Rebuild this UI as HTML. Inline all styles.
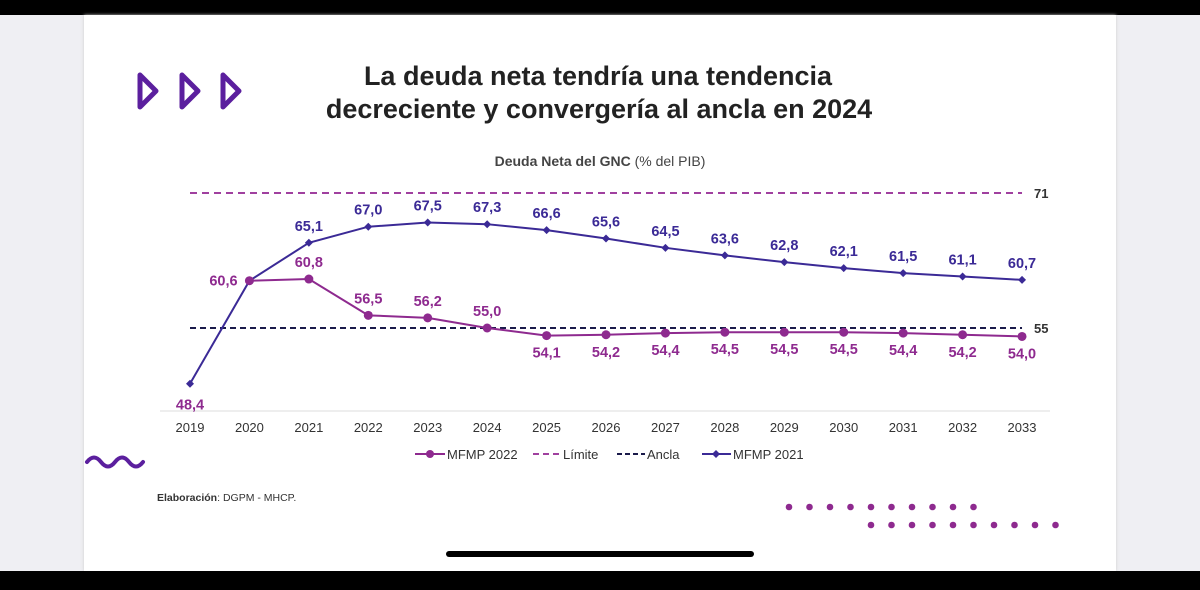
<!DOCTYPE html>
<html><head><meta charset="utf-8"><style>
body{margin:0;width:1200px;height:590px;overflow:hidden;background:#efeff3;font-family:"Liberation Sans",sans-serif;position:relative}
</style></head><body>
<div style="position:absolute;left:0;top:0;width:1200px;height:15px;background:#000"></div>
<div style="position:absolute;left:84px;top:15px;width:1032px;height:556px;background:#fff;box-shadow:0 0 3px #ccc"></div>
<div style="position:absolute;left:0;top:571px;width:1200px;height:19px;background:#000"></div>
<svg id="svg" width="1200" height="590" style="position:absolute;left:0;top:0">
<g fill="none" stroke="#5b1f9e" stroke-width="5" stroke-linejoin="round">
<path d="M140,75 L156,91 L140,107 Z"/><path d="M182,75 L198,91 L182,107 Z"/><path d="M223,75 L239,91 L223,107 Z"/></g>
<text x="598" y="85" text-anchor="middle" font-size="27" font-weight="bold" fill="#222">La deuda neta tendría una tendencia</text>
<text x="599" y="118" text-anchor="middle" font-size="27" font-weight="bold" fill="#222">decreciente y convergería al ancla en 2024</text>
<text x="600" y="166" text-anchor="middle" font-size="14" fill="#444"><tspan font-weight="bold">Deuda Neta del GNC</tspan> (% del PIB)</text>
<line x1="160" y1="411" x2="1050" y2="411" stroke="#ddd"/>
<g id="g"></g>
<g font-size="13" fill="#333">
<line x1="415" y1="454" x2="445" y2="454" stroke="#8e2a8f" stroke-width="2"/><circle cx="430" cy="454" r="4" fill="#8e2a8f"/><text x="447" y="459">MFMP 2022</text>
<line x1="533" y1="454" x2="559" y2="454" stroke="#a0409f" stroke-width="2" stroke-dasharray="6,4"/><text x="563" y="459">Límite</text>
<line x1="617" y1="454" x2="645" y2="454" stroke="#1a1a4a" stroke-width="2" stroke-dasharray="5,3"/><text x="647" y="459">Ancla</text>
<line x1="702" y1="454" x2="731" y2="454" stroke="#3b2a96" stroke-width="2"/><path d="M716,450 L720,454 L716,458 L712,454Z" fill="#3b2a96"/><text x="733" y="459">MFMP 2021</text></g>
<path d="M87,462 q7,-9 14,0 t14,0 t14,0 t14,0" fill="none" stroke="#5b1f9e" stroke-width="4" stroke-linecap="round"/>
<text x="157" y="501" font-size="10.5" fill="#333"><tspan font-weight="bold">Elaboración</tspan>: DGPM - MHCP.</text>
<g id="dots" fill="#8e2a8f"></g>
<rect x="446" y="551" width="308" height="6" rx="3" fill="#000"/>
</svg>
<script>
const years=[2019,2020,2021,2022,2023,2024,2025,2026,2027,2028,2029,2030,2031,2032,2033];
const mfmp2021=[48.4,60.6,65.1,67.0,67.5,67.3,66.6,65.6,64.5,63.6,62.8,62.1,61.5,61.1,60.7];
const mfmp2022=[null,60.6,60.8,56.5,56.2,55.0,54.1,54.2,54.4,54.5,54.5,54.5,54.4,54.2,54.0];
const limite=71, ancla=55;
const X=i=>190+i*59.43, Y=v=>328-(v-55)*8.44;
const NS="http://www.w3.org/2000/svg",g=document.getElementById('g');
function mk(t,a,p){const e=document.createElementNS(NS,t);for(const k in a)e.setAttribute(k,a[k]);(p||g).appendChild(e);return e;}
const fmt=v=>v.toFixed(1).replace('.',',');
let l=mk('line',{x1:X(0),x2:X(14),y1:Y(limite),y2:Y(limite),stroke:'#a0409f','stroke-width':2,'stroke-dasharray':'7,5'});


let lt=mk('text',{x:X(14)+12,y:Y(limite)+5,'font-size':13,'font-weight':'bold',fill:'#333'});lt.textContent=limite;


let a=mk('line',{x1:X(0),x2:X(14),y1:Y(ancla),y2:Y(ancla),stroke:'#1a1a4a','stroke-width':2,'stroke-dasharray':'6,4'});


let at=mk('text',{x:X(14)+12,y:Y(ancla)+5,'font-size':13,'font-weight':'bold',fill:'#333'});at.textContent=ancla;


years.forEach((y,i)=>{const t=mk('text',{x:X(i),y:432,'text-anchor':'middle','font-size':13,fill:'#333'});t.textContent=y;

});
function series(vals,col,name,dot,above){
 const pts=[];vals.forEach((v,i)=>{if(v!=null)pts.push([X(i),Y(v),v,i]);});
 const p=mk('polyline',{points:pts.map(q=>q[0]+','+q[1]).join(' '),fill:'none',stroke:col,'stroke-width':2});
 
 
 pts.forEach(q=>{let m;
  if(dot)m=mk('circle',{cx:q[0],cy:q[1],r:4.5,fill:col});
  else m=mk('path',{d:`M${q[0]},${q[1]-4}L${q[0]+4},${q[1]}L${q[0]},${q[1]+4}L${q[0]-4},${q[1]}Z`,fill:col});
  
  
  if(name==='mfmp2022'&&q[3]===1)return;
  let dx=0,dy=above(q[3])?-12:22;
  if(name==='mfmp2021'&&q[3]===0){dy=26;}
  if(name==='mfmp2021'&&q[3]===1){dx=-26;dy=5;}
  const t=mk('text',{x:q[0]+dx,y:q[1]+dy,'text-anchor':'middle','font-size':14.5,'font-weight':'bold',fill:(name==='mfmp2021'&&q[3]<2)?'#8e2a8f':col});
  t.textContent=fmt(q[2]);
  
  
 });
}
series(mfmp2021,'#3b2a96','mfmp2021',false,i=>true);
series(mfmp2022,'#8e2a8f','mfmp2022',true,i=>i<=5);
const dots=document.getElementById('dots');
for(let i=0;i<10;i++){const c=mk('circle',{cx:789+i*20.5,cy:507,r:3.3},dots);}
for(let i=0;i<10;i++){const c=mk('circle',{cx:871+i*20.5,cy:525,r:3.3},dots);}
</script>
</body></html>
